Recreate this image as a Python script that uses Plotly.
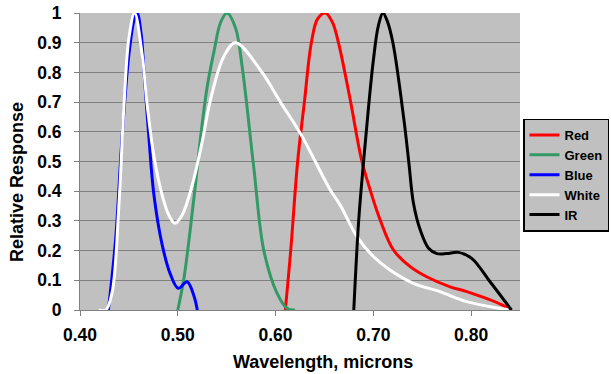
import plotly.graph_objects as go

# ---- data ----
red_x = [0.610, 0.6155, 0.6226, 0.6295, 0.6366, 0.643, 0.651, 0.658, 0.6645, 0.6764, 0.688, 0.6968, 0.707, 0.7206, 0.7377,
         0.7545, 0.7786, 0.7956, 0.8317, 0.840]
red_y = [0.0, 0.20, 0.50, 0.70, 0.90, 0.98, 1.0, 0.97, 0.898, 0.707, 0.505, 0.404, 0.303, 0.202, 0.146,
         0.112, 0.078, 0.062, 0.017, 0.0]

green_x = [0.500, 0.506, 0.512, 0.518, 0.524, 0.530, 0.537, 0.544, 0.5505, 0.559, 0.5658, 0.5777, 0.588, 0.6015, 0.612, 0.620]
green_y = [0.0, 0.10, 0.25, 0.42, 0.60, 0.75, 0.87, 0.97, 1.0, 0.95, 0.82, 0.48, 0.20, 0.057, 0.005, 0.0]

blue_x = [0.429, 0.4365, 0.443, 0.450, 0.4555, 0.4585, 0.4625, 0.4655, 0.4705, 0.4755, 0.484, 0.4925, 0.5005, 0.5095, 0.5163, 0.520]
blue_y = [0.0, 0.24, 0.58, 0.86, 0.98, 1.0, 0.93, 0.80, 0.58, 0.39, 0.22, 0.12, 0.073, 0.095, 0.05, 0.0]

white_x = [0.419, 0.4265, 0.433, 0.4398, 0.445, 0.450, 0.4558, 0.4636, 0.4687, 0.4755, 0.484, 0.4908, 0.497, 0.5045, 0.5147, 0.525,
           0.5334, 0.547, 0.559, 0.5845, 0.605, 0.6253, 0.656, 0.666, 0.6833, 0.700, 0.717, 0.741, 0.768, 0.7956, 0.8317, 0.8385]
white_y = [0.0, 0.0, 0.062, 0.354, 0.69, 0.915, 1.0, 0.859, 0.69, 0.52, 0.387, 0.32, 0.292, 0.32, 0.42, 0.567,
           0.707, 0.853, 0.90, 0.808, 0.70, 0.595, 0.404, 0.354, 0.247, 0.18, 0.135, 0.09, 0.062, 0.028, 0.004, 0.0]

ir_x = [0.680, 0.685, 0.690, 0.695, 0.700, 0.705, 0.7098, 0.714, 0.720, 0.7313, 0.7364, 0.741, 0.748, 0.7565,
        0.765, 0.775, 0.787, 0.8006, 0.8194, 0.8413]
ir_y = [0.0, 0.30, 0.50, 0.68, 0.84, 0.955, 1.0, 0.975, 0.90, 0.64, 0.494, 0.36, 0.269, 0.208,
        0.19, 0.19, 0.194, 0.174, 0.095, 0.0]

series_names = ["Red", "Green", "Blue", "White", "IR"]
series_colors = ["#FF0000", "#339966", "#0000FF", "#FFFFFF", "#000000"]
series_x = [red_x, green_x, blue_x, white_x, ir_x]
series_y = [red_y, green_y, blue_y, white_y, ir_y]

x_ticks = [0.40, 0.50, 0.60, 0.70, 0.80]
x_title = "Wavelength, microns"
y_title = "Relative Response"

FONT = "Liberation Sans, Arial, sans-serif"

fig = go.Figure()
for name, color, xs, ys in zip(series_names, series_colors, series_x, series_y):
    fig.add_trace(go.Scatter(
        x=xs, y=ys, name=name, mode="lines", hoverinfo="skip",
        line=dict(color=color, width=3, shape="spline", smoothing=1.0),
    ))

fig.update_layout(
    width=611, height=374,
    margin=dict(l=80, r=91, t=13, b=64, autoexpand=False),
    paper_bgcolor="white",
    plot_bgcolor="#C0C0C0",
    hovermode=False,
    font=dict(family=FONT, size=17.5, color="black", weight="bold"),
    showlegend=True,
    legend=dict(
        xref="container", yref="container",
        x=609 / 611, xanchor="right",
        y=1 - 175 / 374, yanchor="middle",
        bgcolor="#C0C0C0", bordercolor="black", borderwidth=1.5,
        font=dict(family=FONT, size=13, color="black", weight="bold"),
        tracegroupgap=0,
    ),
    xaxis=dict(
        range=[0.4, 0.85], tickvals=x_ticks, tickformat=".2f",
        ticks="outside", ticklen=5, tickcolor="#808080",
        showline=True, linecolor="#808080", linewidth=1,
        showgrid=False, zeroline=False,
        tickfont=dict(size=17.5, weight="bold"),
        ticklabelstandoff=4,
    ),
    yaxis=dict(
        range=[0, 1], dtick=0.1, tick0=0,
        ticks="outside", ticklen=5, tickcolor="#808080",
        showline=True, linecolor="#808080", linewidth=1,
        showgrid=True, gridcolor="#808080", gridwidth=1, zeroline=False,
        tickfont=dict(size=17.5, weight="bold"),
        ticklabelstandoff=9,
    ),
    annotations=[
        dict(text=x_title, xref="paper", yref="paper", x=(322.5 - 80) / 440, y=(310 - 361.7) / 297,
             xanchor="center", yanchor="middle", showarrow=False,
             font=dict(family=FONT, size=18, color="black", weight="bold")),
        dict(text=y_title, xref="paper", yref="paper", x=(16.3 - 80) / 440, y=(310 - 181.7) / 297,
             xanchor="center", yanchor="middle", showarrow=False, textangle=-90,
             font=dict(family=FONT, size=18, color="black", weight="bold")),
    ],
)

fig.write_html("out.html", config={"displayModeBar": False, "staticPlot": True},
               post_script="document.body.style.margin='0px';")
